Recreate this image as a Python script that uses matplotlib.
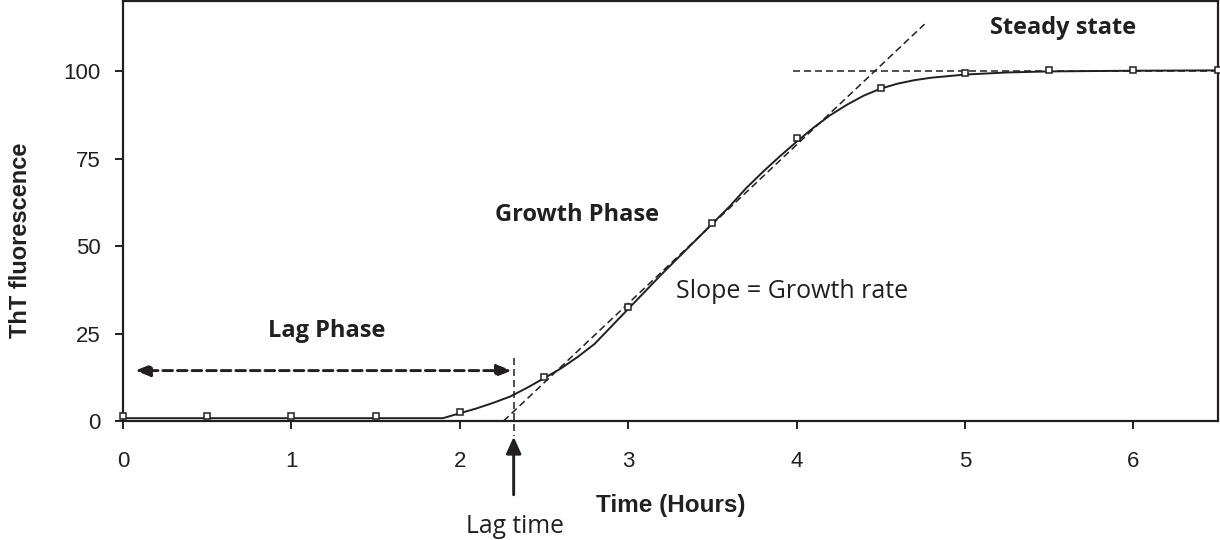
import matplotlib
matplotlib.use("Agg")
import matplotlib.pyplot as plt

# measured points (open squares)
time_pts = [0, 0.5, 1, 1.5, 2, 2.5, 3, 3.5, 4, 4.5, 5, 5.5, 6, 6.5]
fluor_pts = [1.5, 1.5, 1.5, 1.5, 2.7, 12.7, 32.7, 56.6, 80.9, 95.3, 99.4, 100.4, 100.4, 100.4]

# fitted curve
curve_t = [0, 0.5, 1, 1.5, 1.9, 2.0, 2.1, 2.2, 2.3, 2.4, 2.5, 2.6, 2.7, 2.8, 2.9, 3.0,
           3.1, 3.2, 3.3, 3.4, 3.5, 3.6, 3.7, 3.8, 3.9, 4.0, 4.1, 4.2, 4.3, 4.4, 4.5,
           4.6, 4.7, 4.8, 5.0, 5.25, 5.5, 6.0, 6.5]
curve_f = [0.8, 0.8, 0.8, 0.8, 0.8, 2.2, 3.6, 5.2, 7.0, 9.5, 12.2, 15.0, 18.3, 22.0, 27.0, 32.0,
           37.0, 42.0, 46.8, 51.6, 56.4, 61.2, 66.5, 71.2, 75.6, 79.8, 83.8, 87.4, 90.4, 93.0, 95.0,
           96.4, 97.4, 98.1, 99.0, 99.6, 99.9, 100.1, 100.2]

lag_time = 2.32
tangent_t = [2.26, 4.76]
tangent_f = [0.0, 113.4]
steady_t = [3.98, 6.5]
steady_f = [100, 100]

xticks = [0, 1, 2, 3, 4, 5, 6]
yticks = [0, 25, 50, 75, 100]

fig = plt.figure(figsize=(12.2, 5.4), dpi=100)
ax = fig.add_axes([0.1008, 0.2204, 0.8972, 0.7776])
ax.set_xlim(0, 6.5)
ax.set_ylim(0, 120)

tick_font = "Liberation Sans"
cal_font = "Open Sans"
col = "#231f20"
dash = (0, (4.6, 2.6))

ax.plot(curve_t, curve_f, color=col, lw=1.4, zorder=3)
ax.plot(time_pts, fluor_pts, ls="none", marker="s", ms=5, mfc="white", mec=col, mew=1.1,
        zorder=4, clip_on=False)
ax.plot(tangent_t, tangent_f, color=col, lw=1.1, ls=dash, zorder=2, clip_on=False)
ax.plot(steady_t, steady_f, color=col, lw=1.1, ls=dash, zorder=2)
ax.plot([lag_time, lag_time], [18, -4.3], color=col, lw=1.1, ls=dash, zorder=2, clip_on=False)

# double arrow of the lag phase
ax.annotate("", xy=(0.071, 14.4), xytext=(lag_time - 0.01, 14.4),
            arrowprops=dict(arrowstyle="<|-|>,head_length=0.9,head_width=0.35", color=col,
                            lw=2.1, ls=(0, (3.3, 1.7)), shrinkA=0, shrinkB=0, fc=col))

# lag time arrow
ax.annotate("", xy=(lag_time, -4.5), xytext=(lag_time, -21.1),
            arrowprops=dict(arrowstyle="-|>,head_length=1.0,head_width=0.45", color=col,
                            lw=2.1, shrinkA=0, shrinkB=0, fc=col),
            annotation_clip=False)
ax.text(lag_time + 0.01, -32, "Lag time", ha="center", va="baseline", fontsize=17.7,
        family=cal_font, color=col, clip_on=False)

ax.text(1.2125, 24.1, "Lag Phase", ha="center", va="baseline", fontsize=17, family=cal_font,
        fontweight="bold", color=col)
ax.text(2.695, 57.2, "Growth Phase", ha="center", va="baseline", fontsize=17, family=cal_font,
        fontweight="bold", color=col)
ax.text(3.975, 35.06, "Slope = Growth rate", ha="center", va="baseline", fontsize=18,
        family=cal_font, color=col)
ax.text(5.585, 110.6, "Steady state", ha="center", va="baseline", fontsize=17, family=cal_font,
        fontweight="bold", color=col)

ax.set_xticks(xticks)
ax.set_yticks(yticks)
ax.set_xticklabels([str(v) for v in xticks], fontsize=16, family=tick_font, color=col)
ax.set_yticklabels([str(v) for v in yticks], fontsize=16, family=tick_font, color=col)
ax.tick_params(axis="both", direction="out", length=6, width=1.4, color=col)
ax.tick_params(axis="x", pad=15.6)
ax.tick_params(axis="y", pad=9.9)

for s in ax.spines.values():
    s.set_linewidth(1.6)
    s.set_color(col)

ax.text(3.25, -25.9, "Time (Hours)", ha="center", va="baseline", fontsize=17.5,
        family=tick_font, fontweight="bold", color=col, clip_on=False)
fig.text(21 / 1220, 1 - 240 / 540, "ThT fluorescence", rotation=90, ha="center", va="center",
         fontsize=17, family=tick_font, fontweight="bold", color=col)

fig.savefig("out.png", dpi=100)
